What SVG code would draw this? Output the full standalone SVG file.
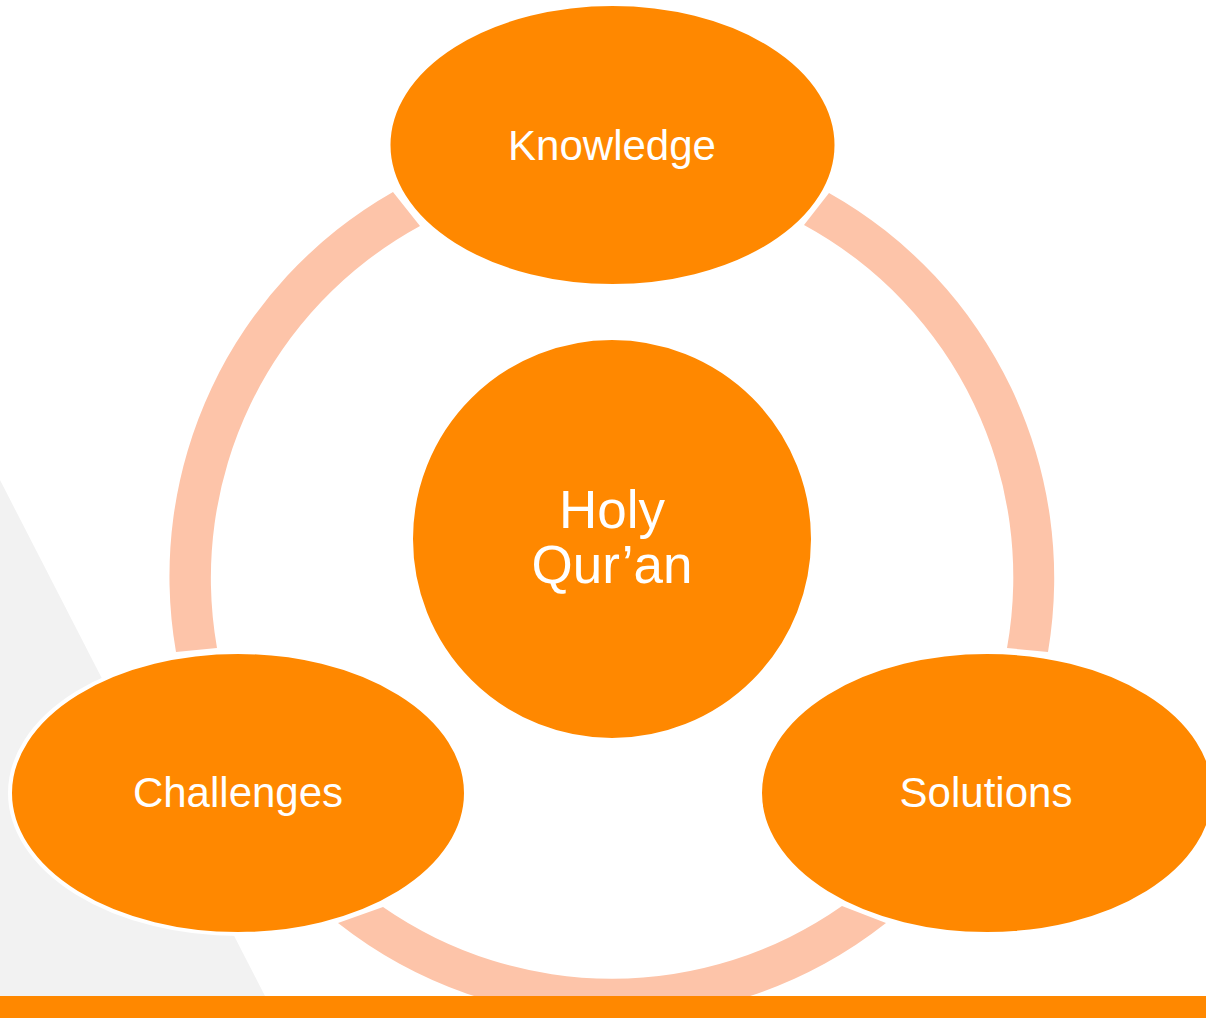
<svg xmlns="http://www.w3.org/2000/svg" width="1206" height="1018" viewBox="0 0 1206 1018">
  <style>
    .node { fill: #FF8800; stroke: #FFFFFF; stroke-width: 4; }
    .ring { fill: #FDC4A9; }
    .label { fill: #FFFFFF; font-family: "Liberation Sans", Arial, sans-serif; font-size: 42px; text-anchor: middle; }
    .hub { font-size: 53px; }
  </style>
  <rect width="1206" height="1018" fill="#FFFFFF"/>
  <!-- background wedge -->
  <polygon points="0,480 265,996 0,996" fill="#F2F2F2"/>

  <!-- cycle arcs -->
  <g id="connectors">
    <path class="ring" d="M393,192 A442,442 0 0 0 176,652 L217,648 A401,401 0 0 1 420,226 Z"/>
    <path class="ring" d="M829,193 A442,442 0 0 1 1048,652 L1007,648 A401,401 0 0 0 804,225 Z"/>
    <path class="ring" d="M886,923 A442,442 0 0 1 338,923 L383,907 A401,401 0 0 0 842,906 Z"/>
  </g>

  <g id="hub">
    <circle class="node" cx="612" cy="539" r="201" stroke="none"/>
    <text class="label hub" x="612" y="528">Holy</text>
    <text class="label hub" x="612" y="583">Qur’an</text>
  </g>

  <g id="knowledge">
    <ellipse class="node" cx="612.5" cy="145" rx="224" ry="141"/>
    <text class="label" x="612" y="160">Knowledge</text>
  </g>

  <g id="challenges">
    <ellipse class="node" cx="238" cy="793" rx="228" ry="141"/>
    <text class="label" x="238" y="807">Challenges</text>
  </g>

  <g id="solutions">
    <ellipse class="node" cx="987" cy="793" rx="227" ry="141"/>
    <text class="label" x="986" y="807">Solutions</text>
  </g>

  <!-- footer band -->
  <rect x="0" y="996" width="1206" height="22" fill="#FF8800"/>
</svg>
